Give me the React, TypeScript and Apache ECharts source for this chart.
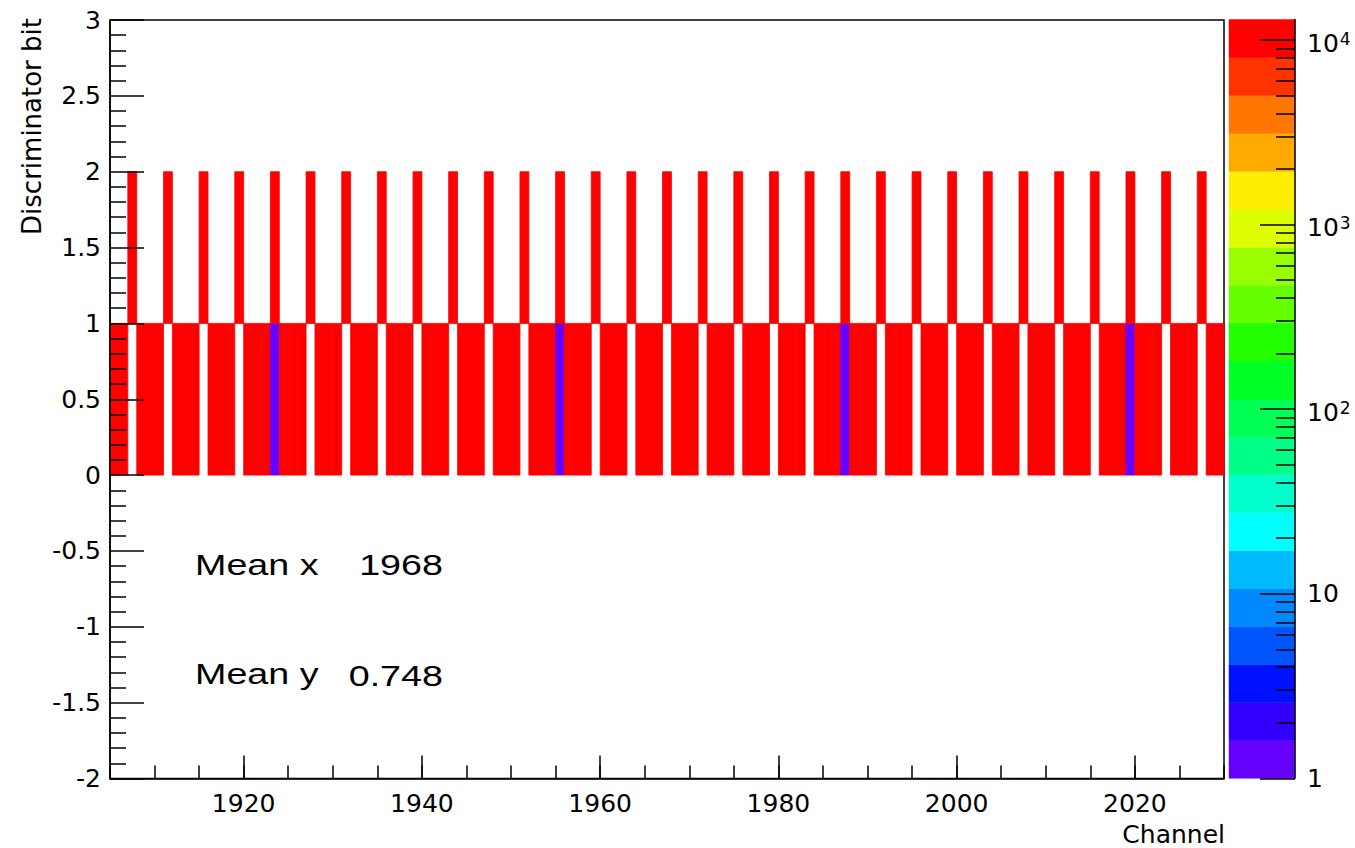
import React, { useEffect, useRef } from 'react';
import * as echarts from 'echarts';

// ---------------- data ----------------
const channels: number[] = [
  1905, 1906, 1907, 1908, 1909, 1910, 1911, 1912, 1913, 1914,
  1915, 1916, 1917, 1918, 1919, 1920, 1921, 1922, 1923, 1924,
  1925, 1926, 1927, 1928, 1929, 1930, 1931, 1932, 1933, 1934,
  1935, 1936, 1937, 1938, 1939, 1940, 1941, 1942, 1943, 1944,
  1945, 1946, 1947, 1948, 1949, 1950, 1951, 1952, 1953, 1954,
  1955, 1956, 1957, 1958, 1959, 1960, 1961, 1962, 1963, 1964,
  1965, 1966, 1967, 1968, 1969, 1970, 1971, 1972, 1973, 1974,
  1975, 1976, 1977, 1978, 1979, 1980, 1981, 1982, 1983, 1984,
  1985, 1986, 1987, 1988, 1989, 1990, 1991, 1992, 1993, 1994,
  1995, 1996, 1997, 1998, 1999, 2000, 2001, 2002, 2003, 2004,
  2005, 2006, 2007, 2008, 2009, 2010, 2011, 2012, 2013, 2014,
  2015, 2016, 2017, 2018, 2019, 2020, 2021, 2022, 2023, 2024,
  2025, 2026, 2027, 2028, 2029,
];

// counts in the bin "Discriminator bit" 0..1
const bit0Counts: number[] = [
  12500, 12500, 0, 12500, 12500, 12500, 0, 12500, 12500, 12500,
  0, 12500, 12500, 12500, 0, 12500, 12500, 12500, 1, 12500,
  12500, 12500, 0, 12500, 12500, 12500, 0, 12500, 12500, 12500,
  0, 12500, 12500, 12500, 0, 12500, 12500, 12500, 0, 12500,
  12500, 12500, 0, 12500, 12500, 12500, 0, 12500, 12500, 12500,
  1, 12500, 12500, 12500, 0, 12500, 12500, 12500, 0, 12500,
  12500, 12500, 0, 12500, 12500, 12500, 0, 12500, 12500, 12500,
  0, 12500, 12500, 12500, 0, 12500, 12500, 12500, 0, 12500,
  12500, 12500, 1, 12500, 12500, 12500, 0, 12500, 12500, 12500,
  0, 12500, 12500, 12500, 0, 12500, 12500, 12500, 0, 12500,
  12500, 12500, 0, 12500, 12500, 12500, 0, 12500, 12500, 12500,
  0, 12500, 12500, 12500, 1, 12500, 12500, 12500, 0, 12500,
  12500, 12500, 0, 12500, 12500,
];

// counts in the bin "Discriminator bit" 1..2
const bit1Counts: number[] = [
  0, 0, 12500, 0, 0, 0, 12500, 0, 0, 0,
  12500, 0, 0, 0, 12500, 0, 0, 0, 12500, 0,
  0, 0, 12500, 0, 0, 0, 12500, 0, 0, 0,
  12500, 0, 0, 0, 12500, 0, 0, 0, 12500, 0,
  0, 0, 12500, 0, 0, 0, 12500, 0, 0, 0,
  12500, 0, 0, 0, 12500, 0, 0, 0, 12500, 0,
  0, 0, 12500, 0, 0, 0, 12500, 0, 0, 0,
  12500, 0, 0, 0, 12500, 0, 0, 0, 12500, 0,
  0, 0, 12500, 0, 0, 0, 12500, 0, 0, 0,
  12500, 0, 0, 0, 12500, 0, 0, 0, 12500, 0,
  0, 0, 12500, 0, 0, 0, 12500, 0, 0, 0,
  12500, 0, 0, 0, 12500, 0, 0, 0, 12500, 0,
  0, 0, 12500, 0, 0,
];

const xRange = [1905, 2030];
const yRange = [-2, 3];
const xMajorTicks = [1920, 1940, 1960, 1980, 2000, 2020];
const zMax = 12900;
const paletteMajorTicks = [1, 10, 100, 1000, 10000];
const paletteMinorTicks = [
  2, 3, 4, 5, 6, 7, 8, 9,
  20, 30, 40, 50, 60, 70, 80, 90,
  200, 300, 400, 500, 600, 700, 800, 900,
  2000, 3000, 4000, 5000, 6000, 7000, 8000, 9000,
];
// 20 colour bands, bottom (low) to top (high)
const paletteColors = [
  '#6600ff', '#3300ff', '#0011ff', '#0055ff', '#0088ff',
  '#00bbff', '#00ffff', '#00ffcc', '#00ff88', '#00ff55',
  '#00ff22', '#22ff00', '#66ff00', '#99ff00', '#ddff00',
  '#ffee00', '#ffaa00', '#ff7700', '#ff3300', '#ff0000',
];
const statsLabels = ['Mean x', 'Mean y'];
const statsValues = ['1968', '0.748'];
const xTitle = 'Channel';
const yTitle = 'Discriminator bit';

// ---------------- derived ----------------
const cells: number[][] = [];
channels.forEach((c, i) => {
  if (bit0Counts[i] > 0) cells.push([c, 0, bit0Counts[i]]);
  if (bit1Counts[i] > 0) cells.push([c, 1, bit1Counts[i]]);
});

const L = Math.log10(zMax);
const nBands = paletteColors.length;
const bandData = paletteColors.map((_, i) => [0, (i * L) / nBands, ((i + 1) * L) / nBands, i]);
const pieces = paletteColors.map((color, i) => ({
  gte: Math.pow(10, (i * L) / nBands),
  lt: i === nBands - 1 ? zMax * 1.0001 : Math.pow(10, ((i + 1) * L) / nBands),
  color,
}));

const FONT = 'DejaVu Sans';
const black = '#000';
const lineStyle = { color: black, width: 1.5 };

const option: any = {
  animation: false,
  backgroundColor: '#fff',
  textStyle: { fontFamily: FONT, color: black },
  grid: [
    {
      left: 110, top: 20, width: 1114, height: 758.5,
      show: true, borderColor: black, borderWidth: 1.5, backgroundColor: 'transparent',
      outerBoundsMode: 'none',
    },
    {
      left: 1229, top: 19.6, width: 66, height: 758.7,
      show: false, outerBoundsMode: 'none',
    },
  ],
  xAxis: [
    {
      type: 'value', gridIndex: 0, min: xRange[0], max: xRange[1], interval: 5,
      position: 'bottom', z: 10,
      axisLine: { show: true, onZero: false, lineStyle },
      axisTick: { show: true, inside: true, length: 13, lineStyle },
      axisLabel: { show: false },
      splitLine: { show: false },
    },
    {
      type: 'value', gridIndex: 0, min: xRange[0], max: xRange[1],
      position: 'bottom', z: 10,
      axisLine: { show: false, onZero: false },
      axisTick: { show: true, inside: true, length: 23, lineStyle, customValues: xMajorTicks },
      axisLabel: {
        show: true, customValues: xMajorTicks, margin: 12,
        fontFamily: FONT, fontSize: 25, color: black,
        formatter: (v: number) => String(Math.round(v)),
      },
      splitLine: { show: false },
    },
    {
      type: 'value', gridIndex: 1, min: 0, max: 1, show: false,
      axisLine: { onZero: false },
    },
  ],
  yAxis: [
    {
      type: 'value', gridIndex: 0, min: yRange[0], max: yRange[1], interval: 0.5,
      position: 'left', z: 10,
      axisLine: { show: true, onZero: false, lineStyle },
      axisTick: { show: true, inside: true, length: 34, lineStyle },
      minorTick: { show: true, splitNumber: 5, length: 16, lineStyle },
      axisLabel: { show: true, margin: 9, fontFamily: FONT, fontSize: 25, color: black },
      splitLine: { show: false },
      minorSplitLine: { show: false },
    },
    {
      type: 'value', gridIndex: 1, min: 0, max: L, position: 'right', z: 10,
      axisLine: { show: true, onZero: false, lineStyle },
      axisTick: {
        show: true, inside: true, length: 35, lineStyle,
        customValues: paletteMajorTicks.map((v) => Math.log10(v)),
      },
      axisLabel: {
        show: true, inside: false, margin: 12,
        customValues: paletteMajorTicks.map((v) => Math.log10(v)),
        formatter: (v: number) => {
          const k = Math.round(v);
          if (k === 0) return '{b|1}';
          if (k === 1) return '{b|10}';
          return '{p|10}{s|' + k + '}';
        },
        rich: {
          b: { fontFamily: FONT, fontSize: 25, color: black, lineHeight: 30 },
          p: { fontFamily: FONT, fontSize: 25, color: black, lineHeight: 30, padding: [6, 0, 0, 0] },
          s: { fontFamily: FONT, fontSize: 17, color: black, lineHeight: 17, verticalAlign: 'top', padding: [5, 0, 0, 1] },
        },
      },
      splitLine: { show: false },
    },
    {
      type: 'value', gridIndex: 1, min: 0, max: L, position: 'right', z: 10,
      axisLine: { show: false, onZero: false },
      axisTick: {
        show: true, inside: true, length: 19, lineStyle,
        customValues: paletteMinorTicks.map((v) => Math.log10(v)),
      },
      axisLabel: { show: false },
      splitLine: { show: false },
    },
  ],
  visualMap: [
    { type: 'piecewise', show: false, seriesIndex: 0, dimension: 2, pieces },
  ],
  series: [
    {
      type: 'custom',
      name: 'counts',
      xAxisIndex: 0,
      yAxisIndex: 0,
      z: 2,
      data: cells,
      encode: { x: 0, y: 1 },
      renderItem: (params: any, api: any) => {
        const x = api.value(0);
        const y = api.value(1);
        const p0 = api.coord([x, y + 1]);
        const p1 = api.coord([x + 1, y]);
        const color = api.visual('color');
        return {
          type: 'rect',
          shape: { x: p0[0], y: p0[1], width: p1[0] - p0[0], height: p1[1] - p0[1] },
          style: { fill: color, stroke: color, lineWidth: 0.8 },
        };
      },
    },
    {
      type: 'custom',
      name: 'palette',
      xAxisIndex: 2,
      yAxisIndex: 1,
      z: 2,
      data: bandData,
      encode: { x: 0, y: [1, 2] },
      renderItem: (params: any, api: any) => {
        const lo = api.value(1);
        const hi = api.value(2);
        const idx = api.value(3);
        const p0 = api.coord([0, hi]);
        const p1 = api.coord([1, lo]);
        const color = paletteColors[idx];
        return {
          type: 'rect',
          shape: { x: p0[0], y: p0[1], width: p1[0] - p0[0], height: p1[1] - p0[1] },
          style: { fill: color, stroke: color, lineWidth: 0.5 },
        };
      },
    },
  ],
  graphic: [
    {
      type: 'text', x: 32, y: 18, rotation: Math.PI / 2,
      style: { text: yTitle, fontFamily: FONT, fontSize: 26, fill: black, align: 'right', verticalAlign: 'middle' },
    },
    {
      type: 'text', x: 1225, y: 834,
      style: { text: xTitle, fontFamily: FONT, fontSize: 25, fill: black, align: 'right', verticalAlign: 'middle' },
    },
    {
      type: 'text', x: 195, y: 565, scaleX: 1.3,
      style: { text: statsLabels[0], fontFamily: 'Liberation Sans', fontSize: 29, fill: black, align: 'left', verticalAlign: 'middle' },
    },
    {
      type: 'text', x: 443, y: 565, scaleX: 1.3,
      style: { text: statsValues[0], fontFamily: 'Liberation Sans', fontSize: 29, fill: black, align: 'right', verticalAlign: 'middle' },
    },
    {
      type: 'text', x: 195, y: 674, scaleX: 1.3,
      style: { text: statsLabels[1], fontFamily: 'Liberation Sans', fontSize: 29, fill: black, align: 'left', verticalAlign: 'middle' },
    },
    {
      type: 'text', x: 443, y: 676, scaleX: 1.3,
      style: { text: statsValues[1], fontFamily: 'Liberation Sans', fontSize: 29, fill: black, align: 'right', verticalAlign: 'middle' },
    },
  ],
};

export default function App() {
  const ref = useRef<HTMLDivElement>(null);
  useEffect(() => {
    if (!ref.current) return;
    const chart = echarts.init(ref.current, null, { renderer: 'svg' });
    chart.setOption(option);
    return () => {
      chart.dispose();
    };
  }, []);
  return (
    <div
      ref={ref}
      style={{ position: 'fixed', left: 0, top: 0, width: 1355, height: 848, background: '#fff' }}
    />
  );
}
